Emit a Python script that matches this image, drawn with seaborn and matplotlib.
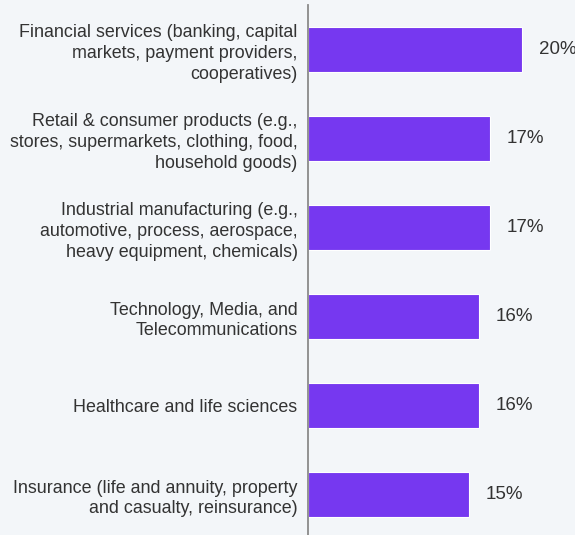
import matplotlib
matplotlib.use("Agg")
import matplotlib.pyplot as plt
import seaborn as sns
import pandas as pd

industries = [
    "Financial services (banking, capital\nmarkets, payment providers,\ncooperatives)",
    "Retail & consumer products (e.g.,\nstores, supermarkets, clothing, food,\nhousehold goods)",
    "Industrial manufacturing (e.g.,\nautomotive, process, aerospace,\nheavy equipment, chemicals)",
    "Technology, Media, and\nTelecommunications",
    "Healthcare and life sciences",
    "Insurance (life and annuity, property\nand casualty, reinsurance)",
]
shares = [20, 17, 17, 16, 16, 15]

df = pd.DataFrame({"industry": industries, "share": shares})

BG = "#f3f6f9"
BAR = "#7638f0"
TEXT = "#333333"
FS = 12.9

sns.set_theme(style="white")
plt.rcParams["font.family"] = ["Liberation Sans", "DejaVu Sans"]

W, H = 575, 535
fig = plt.figure(figsize=(W / 100, H / 100), dpi=100, facecolor=BG)
ax = fig.add_axes([308 / W, 0, 1 - 308 / W, 530 / H])
ax.set_facecolor(BG)

sns.barplot(data=df, x="share", y="industry", orient="h", color=BAR,
            saturation=1, width=0.5, edgecolor="white", linewidth=0.8, ax=ax)

ax.set_xlim(0, (W - 308) / 10.7)
ax.set_ylim(5.455, -0.5)

for container in ax.containers:
    ax.bar_label(container, labels=[f"{v}%" for v in shares], padding=12,
                 fontsize=13.5, color=TEXT)

ax.set_xlabel("")
ax.set_ylabel("")
ax.set_xticks([])
ax.tick_params(axis="y", length=0, pad=7.5, labelsize=FS, labelcolor=TEXT)
for lbl in ax.get_yticklabels():
    lbl.set_linespacing(1.3)

for side in ["top", "right", "bottom"]:
    ax.spines[side].set_visible(False)
ax.spines["left"].set_color("#8a8a8a")
ax.spines["left"].set_linewidth(1.3)

fig.savefig("out.png", dpi=100, facecolor=BG)
